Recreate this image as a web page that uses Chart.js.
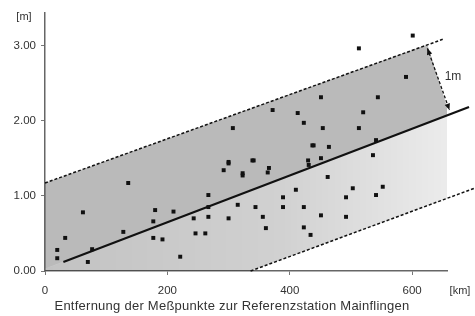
<!DOCTYPE html>
<html>
<head>
<meta charset="utf-8">
<script src="https://cdn.jsdelivr.net/npm/chart.js@4/dist/chart.umd.min.js"></script>
<style>
  html, body { margin: 0; padding: 0; background: #fff; }
  #wrap { width: 475px; height: 316px; }
</style>
</head>
<body>
<div id="wrap"><canvas id="chart"></canvas></div>
<script>
// Achsen
const xTicks = [0, 200, 400, 600];
const yTicks = [0, 1, 2, 3];

// Messpunkte [km, m]
const messX = [20, 20, 33, 62, 70, 77, 128, 136, 177, 177, 180, 192, 210, 221,
  243, 246, 262, 267, 267, 267, 292, 300, 300, 300, 307, 315, 323, 323, 339, 341,
  344, 356, 361, 364, 366, 372, 389, 389, 410, 413, 423, 423, 423, 430, 431, 434,
  437, 439, 451, 451, 451, 454, 462, 464, 492, 492, 503, 513, 513, 520, 536, 541,
  541, 544, 552, 590, 601];
const messY = [0.28, 0.17, 0.44, 0.78, 0.12, 0.29, 0.52, 1.17, 0.66, 0.44, 0.81, 0.42, 0.79, 0.19,
  0.70, 0.50, 0.50, 1.01, 0.85, 0.72, 1.34, 1.45, 0.70, 1.43, 1.90, 0.88, 1.27, 1.30, 1.47, 1.47,
  0.85, 0.72, 0.57, 1.31, 1.37, 2.14, 0.98, 0.85, 1.08, 2.10, 1.97, 0.85, 0.58, 1.47, 1.41, 0.48,
  1.67, 1.67, 2.31, 1.50, 0.74, 1.90, 1.25, 1.65, 0.98, 0.72, 1.10, 1.90, 2.96, 2.11, 1.54, 1.74,
  1.01, 2.31, 1.12, 2.58, 3.13];

// Linien
const regX = [30, 693];
const regY = [0.12, 2.18];
const obenX = [0, 650];
const obenY = [1.17, 3.08];
const untenX = [336, 705];
const untenY = [0.00, 1.11];
const pfeilX = [625, 661];
const pfeilY = [2.96, 2.14];

// Schattierte Bereiche (Polygone)
const band1X = [0, 625, 661, 0];
const band1Y = [1.17, 3.01, 2.08, 0.03];
const band2X = [0, 700, 700, 336, 0];
const band2Y = [0.03, 2.20, 1.09, 0.00, 0.00];

const pts = (xs, ys) => xs.map((x, i) => ({ x: x, y: ys[i] }));
const FONT = '"Liberation Sans", Arial, sans-serif';

const textPlugin = {
  id: 'texte',
  afterDatasetsDraw(chart) {
    const ctx = chart.ctx;
    const xs = chart.scales.x, ys = chart.scales.y;
    ctx.save();
    // Pfeilspitzen
    const p0 = { x: xs.getPixelForValue(pfeilX[0]), y: ys.getPixelForValue(pfeilY[0]) };
    const p1 = { x: xs.getPixelForValue(pfeilX[1]), y: ys.getPixelForValue(pfeilY[1]) };
    const head = (a, b) => {
      const ang = Math.atan2(b.y - a.y, b.x - a.x);
      ctx.beginPath();
      ctx.moveTo(b.x, b.y);
      ctx.lineTo(b.x - 7 * Math.cos(ang - 0.4), b.y - 7 * Math.sin(ang - 0.4));
      ctx.lineTo(b.x - 7 * Math.cos(ang + 0.4), b.y - 7 * Math.sin(ang + 0.4));
      ctx.closePath();
      ctx.fillStyle = '#111';
      ctx.fill();
    };
    head(p0, p1);
    head(p1, p0);

    ctx.fillStyle = '#333';
    ctx.font = '11px ' + FONT;
    ctx.textBaseline = 'middle';
    ctx.textAlign = 'center';
    ctx.fillText('[m]', 24, 17);
    ctx.fillText('[km]', 460, 291);
    ctx.font = '12px ' + FONT;
    ctx.fillText('1m', 453, 77);
    ctx.font = '13px ' + FONT;
    ctx.letterSpacing = '0.25px';
    ctx.fillText('Entfernung der Meßpunkte zur Referenzstation Mainflingen', 232, 306);
    ctx.restore();
  }
};

const lineDs = (data, extra) => Object.assign({
  type: 'line', data: data, borderColor: '#111', borderWidth: 1.5,
  pointRadius: 0, fill: false, clip: false, tension: 0
}, extra);

// heller werdender Verlauf nach rechts fuer den unteren Bereich
const band2Fill = ctx => {
  const c = ctx.chart;
  if (!c.chartArea) return 'rgba(0,0,0,0.2)';
  const g = c.ctx.createLinearGradient(c.chartArea.left, 0, c.width, 0);
  g.addColorStop(0, 'rgba(0,0,0,0.24)');
  g.addColorStop(0.55, 'rgba(0,0,0,0.18)');
  g.addColorStop(1, 'rgba(0,0,0,0.06)');
  return g;
};

new Chart(document.getElementById('chart').getContext('2d'), {
  type: 'scatter',
  data: {
    datasets: [
      {
        data: pts(messX, messY),
        pointStyle: 'rect', pointRadius: 2.8,
        backgroundColor: '#111', borderColor: '#111', borderWidth: 0,
        clip: false, order: 0
      },
      lineDs(pts(regX, regY), { borderWidth: 2.2, order: 1 }),
      lineDs(pts(obenX, obenY), { borderDash: [3, 2], order: 1 }),
      lineDs(pts(untenX, untenY), { borderDash: [3, 2], order: 1 }),
      lineDs(pts(pfeilX, pfeilY), { borderDash: [3, 2], borderWidth: 1.3, order: 1 }),
      lineDs(pts(band1X, band1Y), { borderWidth: 0, borderColor: 'rgba(0,0,0,0)', fill: 'shape', backgroundColor: 'rgba(0,0,0,0.27)', order: 5 }),
      lineDs(pts(band2X, band2Y), { borderWidth: 0, borderColor: 'rgba(0,0,0,0)', fill: 'shape', backgroundColor: band2Fill, order: 5 })
    ]
  },
  options: {
    responsive: true,
    maintainAspectRatio: false,
    animation: false,
    layout: { padding: { left: 0, right: 28, top: 13, bottom: 0 } },
    plugins: { legend: { display: false }, tooltip: { enabled: false } },
    scales: {
      x: {
        type: 'linear', min: 0, max: 657,
        afterBuildTicks: s => { s.ticks = xTicks.map(v => ({ value: v })); },
        afterFit: s => { s.height = 45; },
        grid: { drawOnChartArea: false, tickLength: 4, color: '#777' },
        border: { color: '#666', width: 1.5 },
        ticks: { color: '#333', padding: 9, font: { size: 11.5, family: FONT }, maxRotation: 0 }
      },
      y: {
        type: 'linear', min: 0, max: 3.43,
        afterBuildTicks: s => { s.ticks = yTicks.map(v => ({ value: v })); },
        afterFit: s => { s.width = 45; },
        grid: { drawOnChartArea: false, tickLength: 4, color: '#777' },
        border: { color: '#666', width: 1.5 },
        ticks: { color: '#333', padding: 5, font: { size: 11.5, family: FONT },
          callback: v => v.toFixed(2) }
      }
    }
  },
  plugins: [textPlugin]
});
</script>
</body>
</html>
